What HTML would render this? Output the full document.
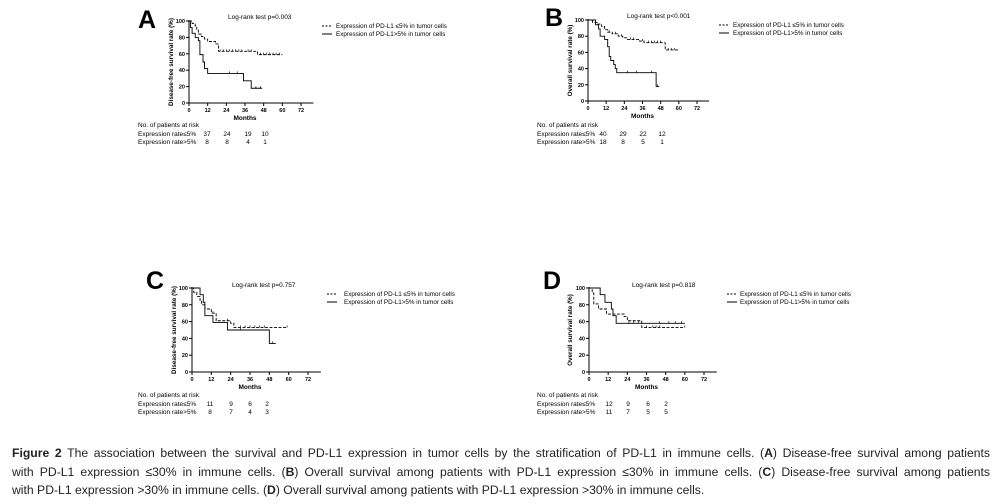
<!DOCTYPE html>
<html><head><meta charset="utf-8">
<style>
body{margin:0;background:#fff;width:1002px;height:504px;overflow:hidden;position:relative;font-family:"Liberation Sans",sans-serif}
#cap{position:absolute;left:12px;top:444px;width:978px;font-size:12.2px;line-height:18.5px;text-align:justify;text-align-last:justify;color:#222}
#cap div{text-align:justify;text-align-last:justify}
</style></head>
<body>
<svg id="fig" width="1002" height="504" style="position:absolute;left:0;top:0" font-family="Liberation Sans, sans-serif"></svg>
<div id="cap">
<div><b>Figure 2</b> The association between the survival and PD-L1 expression in tumor cells by the stratification of PD-L1 in immune cells. (<b>A</b>) Disease-free survival among patients</div>
<div>with PD-L1 expression ≤30% in immune cells. (<b>B</b>) Overall survival among patients with PD-L1 expression ≤30% in immune cells. (<b>C</b>) Disease-free survival among patients</div>
<div style="text-align-last:left">with PD-L1 expression &gt;30% in immune cells. (<b>D</b>) Overall survival among patients with PD-L1 expression &gt;30% in immune cells.</div>
</div>
<script>
// ---- data ----
const xTicks=[0,12,24,36,48,60,72];
const yTicks=[0,20,40,60,80,100];
const pValues=["p=0.003","p<0.001","p=0.757","p=0.818"];
const riskLow=[[37,24,19,10],[40,29,22,12],[11,9,6,2],[12,9,6,2]];
const riskHigh=[[8,8,4,1],[18,8,5,1],[8,7,4,3],[11,7,5,5]];
const A_lowT=[0,2,4,5,6,8,10,12,17,19,44,60];
const A_lowS=[100,97,94,89,84,81,78,75,72,63,59,59];
const A_lowC=[20,22,24,26,28,30,32,34,38,40,46,48,50,52,54,56,58];
const A_highT=[0,1,2,4,6,7,9,10,12,35,40,47];
const A_highS=[100,92,85,80,76,59,50,42,36,27,18,18];
const A_highC=[26,31,43,46];
const B_lowT=[0,3,6,9,11,13,16,20,23,26,34,37,51,60];
const B_lowS=[100,97,95,92,88,85,83,80,78,76,74,72,63,63];
const B_lowC=[14,18,22,28,30,36,40,42,44,46,48,53,55,57];
const B_highT=[0,5,7,8,11,13,14,15,17,18,19,45,47];
const B_highS=[100,94,89,80,76,67,55,50,45,40,35,18,18];
const B_highC=[26,32,42,46];
const C_lowT=[0,1,3,5,6,8,12,15,24,26,59];
const C_lowS=[100,95,90,85,80,75,70,61,58,53,53];
const C_lowC=[13,22,30,33,36,39,42,45,59];
const C_highT=[0,5,7,8,13,22,48,52];
const C_highS=[100,92,83,67,59,50,34,34];
const C_highC=[30,50];
const D_lowT=[0,2,3,6,11,22,24,33,60];
const D_lowS=[100,94,81,75,69,66,61,53,53];
const D_lowC=[36,40,42,44,60];
const D_highT=[0,7,10,14,15,17,60];
const D_highS=[100,92,83,75,67,58,58];
const D_highC=[25,28,31,44,50,54,58];
const series=[
 {lowT:A_lowT,lowS:A_lowS,lowC:A_lowC,highT:A_highT,highS:A_highS,highC:A_highC},
 {lowT:B_lowT,lowS:B_lowS,lowC:B_lowC,highT:B_highT,highS:B_highS,highC:B_highC},
 {lowT:C_lowT,lowS:C_lowS,lowC:C_lowC,highT:C_highT,highS:C_highS,highC:C_highC},
 {lowT:D_lowT,lowS:D_lowS,lowC:D_lowC,highT:D_highT,highS:D_highS,highC:D_highC}];
const letters=["A","B","C","D"];
const yTitles=["Disease-free survival rate (%)","Overall survival rate (%)","Disease-free survival rate (%)","Overall survival rate (%)"];
// ---- layout ----
const panels=[
 {x0:189,y0:103,y100:21,x72:301,L:[138,28],T:[228,19],G:[322,336,28,36],R:[138,127,[207,227,248,265]],yt:171},
 {x0:588,y0:101,y100:20,x72:697,L:[545,26],T:[627,18],G:[719,733,27,35],R:[537,127,[603,623,643,662]],yt:570},
 {x0:192,y0:372,y100:288,x72:308,L:[146,289],T:[232,287],G:[327,344,296,304],R:[138,397,[210,231,250,267]],yt:174},
 {x0:589,y0:372,y100:288,x72:704,L:[543,289],T:[632,287],G:[727,740,296,304],R:[537,397,[609,628,648,666]],yt:570}];
const NS="http://www.w3.org/2000/svg";
const svg=document.getElementById('fig');
function mk(tag,attrs,parent,txt){const e=document.createElementNS(NS,tag);for(const k in attrs)e.setAttribute(k,attrs[k]);if(txt!==undefined)e.textContent=txt;(parent||svg).appendChild(e);return e;}
panels.forEach((p,i)=>{
 const g=mk('g',{});
 
 
 const sx=t=>p.x0+(p.x72-p.x0)*t/72;
 const sy=v=>p.y0-(p.y0-p.y100)*v/100;
 const lt=mk('text',{x:p.L[0],y:p.L[1],'font-size':25,'font-weight':'bold'},g,letters[i]);
 
 const tt=mk('text',{x:p.T[0],y:p.T[1],'font-size':6.5},g,'Log-rank test '+pValues[i]);
 
 // axes
 const ax=mk('path',{d:`M${p.x0},${p.y100-1}V${p.y0}H${sx(80)}`,stroke:'#000','stroke-width':1,fill:'none'},g);
 
 yTicks.forEach(v=>{mk('line',{x1:p.x0-3,x2:p.x0,y1:sy(v),y2:sy(v),stroke:'#000'},g);
  const t=mk('text',{x:p.x0-4,y:sy(v)+2,'font-size':5.5,'font-weight':'bold','text-anchor':'end'},g,v);
  });
 xTicks.forEach(v=>{mk('line',{x1:sx(v),x2:sx(v),y1:p.y0,y2:p.y0+3,stroke:'#000'},g);
  const t=mk('text',{x:sx(v),y:p.y0+9,'font-size':5.5,'font-weight':'bold','text-anchor':'middle'},g,v);
  });
 const xl=mk('text',{x:sx(36),y:p.y0+17,'font-size':6.5,'font-weight':'bold','text-anchor':'middle'},g,'Months');
 
 const cy=(p.y0+p.y100)/2;
 const yl=mk('text',{x:p.yt+2,y:cy,'font-size':6.3,'font-weight':'bold','text-anchor':'middle',transform:`rotate(-90 ${p.yt+2} ${cy})`},g,yTitles[i]);
 
 const s=series[i];
 function curve(T,S,C,dash,name){
  let d=`M${sx(T[0])},${sy(S[0])}`;
  for(let k=1;k<T.length;k++){d+=`H${sx(T[k])}V${sy(S[k])}`;}
  const pth=mk('path',{d:d,stroke:'#000','stroke-width':0.9,fill:'none','stroke-dasharray':dash},g);
  
  C.forEach(c=>{let v=S[0];for(let k=0;k<T.length;k++){if(T[k]<=c)v=S[k];}
   const m=mk('line',{x1:sx(c),x2:sx(c),y1:sy(v)-2,y2:sy(v),stroke:'#000','stroke-width':0.7},g);
   });
 }
 curve(s.lowT,s.lowS,s.lowC,'3,1.5','curve-pdl1-low');
 curve(s.highT,s.highS,s.highC,'none','curve-pdl1-high');
 // legend
 const lg=mk('g',{},g);
 mk('line',{x1:p.G[0],x2:p.G[0]+10,y1:p.G[2]-2,y2:p.G[2]-2,stroke:'#000','stroke-dasharray':'2,1.5'},lg);
 mk('line',{x1:p.G[0],x2:p.G[0]+10,y1:p.G[3]-2,y2:p.G[3]-2,stroke:'#000'},lg);
 const l1=mk('text',{x:p.G[1],y:p.G[2],'font-size':6.3},lg,'Expression of PD-L1 ≤5% in tumor cells');
 
 const l2=mk('text',{x:p.G[1],y:p.G[3],'font-size':6.3},lg,'Expression of PD-L1>5% in tumor cells');
 
 // risk table
 const rt=mk('g',{'font-size':6.5},g);
 mk('text',{x:p.R[0],y:p.R[1]},rt,'No. of patients at risk');
 mk('text',{x:p.R[0],y:p.R[1]+9},rt,'Expression rate≤5%');
 mk('text',{x:p.R[0],y:p.R[1]+17},rt,'Expression rate>5%');
 p.R[2].forEach((x,k)=>{
  mk('text',{x:x,y:p.R[1]+9,'text-anchor':'middle'},rt,riskLow[i][k]);
  mk('text',{x:x,y:p.R[1]+17,'text-anchor':'middle'},rt,riskHigh[i][k]);});
});
</script>
</body></html>
